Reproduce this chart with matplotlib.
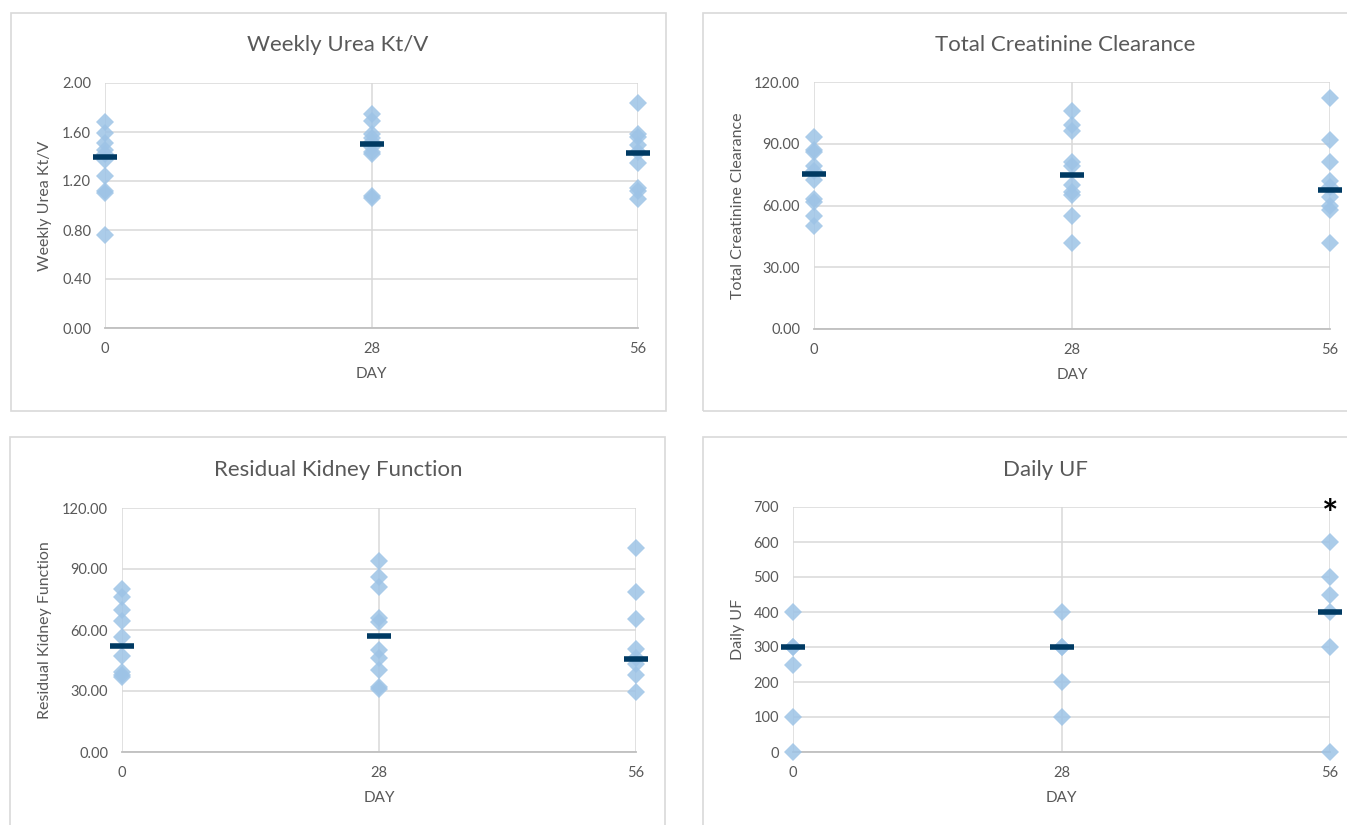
import matplotlib
matplotlib.use("Agg")
import matplotlib.pyplot as plt
from matplotlib.patches import Rectangle
from matplotlib.ticker import FormatStrFormatter

plt.rcParams['font.family'] = ['Lato', 'DejaVu Sans']

# ---------------- data ----------------
days = [0, 28, 56]
day_labels = ["0", "28", "56"]

ktv_d0 = [1.68, 1.59, 1.51, 1.45, 1.42, 1.37, 1.24, 1.12, 1.10, 0.76]
ktv_d28 = [1.75, 1.69, 1.58, 1.55, 1.52, 1.48, 1.44, 1.42, 1.08, 1.06]
ktv_d56 = [1.84, 1.58, 1.56, 1.49, 1.44, 1.35, 1.14, 1.12, 1.05]
ktv_median = [1.40, 1.50, 1.43]

ccr_d0 = [93.5, 87, 86, 79, 77, 72.5, 63, 61.5, 55, 50]
ccr_d28 = [106, 99, 96, 81, 79, 70, 66.5, 65, 55, 42]
ccr_d56 = [112, 92, 81, 72, 69, 64, 60, 58, 42]
ccr_median = [75.5, 75, 67.5]

rkf_d0 = [80, 76, 70, 64.5, 56.5, 47, 39.5, 38, 37]
rkf_d28 = [94, 86, 81, 66, 64, 50, 46, 40.5, 32, 31]
rkf_d56 = [100.5, 78.5, 65.5, 50.5, 46, 43.5, 38, 29.5]
rkf_median = [52, 57, 45.5]

uf_d0 = [400, 300, 300, 250, 100, 0]
uf_d28 = [400, 300, 300, 200, 100]
uf_d56 = [600, 500, 450, 400, 300, 0]
uf_median = [300, 300, 400]

titles = ["Weekly Urea Kt/V", "Total Creatinine Clearance",
          "Residual Kidney Function", "Daily UF"]
ylabels = titles
xlabel = "DAY"

# ---------------- layout ----------------
W, H = 1347, 825
fig = plt.figure(figsize=(W / 100, H / 100), dpi=100)
fig.patch.set_facecolor("white")

def fx(px):
    return px / W

def fy(py):
    return 1 - py / H

# panel frames (left, top, right, bottom) in px
frames = [(11, 13, 666, 411), (703, 13, 1360, 411),
          (10, 437, 665, 840), (703, 437, 1360, 840)]
for l, t, r, b in frames:
    fig.patches.append(Rectangle((fx(l), fy(b)), fx(r) - fx(l), fy(t) - fy(b),
                                 transform=fig.transFigure, fill=False,
                                 edgecolor="#D9D9D9", linewidth=1.2))

# axes (left, top, right, bottom) in px
axes_px = [(105, 83, 638, 328), (814, 82, 1330, 329),
           (122, 508, 636, 752), (793, 507, 1330, 752)]

series = [
    ([ktv_d0, ktv_d28, ktv_d56], ktv_median, (0, 2.0), [0, 0.4, 0.8, 1.2, 1.6, 2.0], "%.2f"),
    ([ccr_d0, ccr_d28, ccr_d56], ccr_median, (0, 120), [0, 30, 60, 90, 120], "%.2f"),
    ([rkf_d0, rkf_d28, rkf_d56], rkf_median, (0, 120), [0, 30, 60, 90, 120], "%.2f"),
    ([uf_d0, uf_d28, uf_d56], uf_median, (0, 700), [0, 100, 200, 300, 400, 500, 600, 700], "%d"),
]

ylabel_x = [45, 738, 45, 738]
title_pos = [(338, 45), (1065, 45), (338, 470), (1045, 470)]

text_col = "#595959"
grid_col = "#D9D9D9"
point_col = "#9DC3E6"
median_col = "#003A63"

for i, (l, t, r, b) in enumerate(axes_px):
    ax = fig.add_axes([fx(l), fy(b), fx(r) - fx(l), fy(t) - fy(b)])
    groups, med, ylim, yticks, fmt = series[i]
    for d, vals in zip(days, groups):
        ax.plot([d] * len(vals), vals, linestyle="none", marker="D",
                markersize=9, color=point_col, alpha=0.85,
                markeredgewidth=0, clip_on=False, zorder=3)
    ax.plot(days, med, linestyle="none", marker="_", markersize=17,
            markeredgewidth=4, color=median_col, clip_on=False, zorder=4)
    ax.set_xlim(0, 56)
    ax.set_ylim(*ylim)
    ax.set_xticks(days)
    ax.set_xticklabels(day_labels)
    ax.set_yticks(yticks)
    ax.yaxis.set_major_formatter(FormatStrFormatter(fmt))
    ax.grid(True, color=grid_col, linewidth=1.1)
    ax.set_axisbelow(True)
    for s in ["top", "right", "left"]:
        ax.spines[s].set_visible(False)
    ax.spines["bottom"].set_color("#BFBFBF")
    ax.spines["bottom"].set_linewidth(1.3)
    ax.tick_params(length=0, labelsize=10.5, labelcolor=text_col)
    ax.tick_params(axis="y", pad=10)
    ax.tick_params(axis="x", pad=10)
    ax.set_xlabel(xlabel, fontsize=11, color=text_col, labelpad=8)
    # titles and y labels in figure pixel coordinates
    tx, ty = title_pos[i]
    fig.text(fx(tx), fy(ty), titles[i], ha="center", va="center",
             fontsize=16, color=text_col)
    fig.text(fx(ylabel_x[i]), fy((t + b) / 2), ylabels[i], rotation=90,
             ha="center", va="center", fontsize=11.5, color=text_col)
    if i == 3:
        ax.annotate("*", xy=(56, 700), xytext=(0, -6), textcoords="offset points",
                    ha="center", va="center", fontsize=28, fontweight="bold",
                    color="black", annotation_clip=False, zorder=5)

fig.savefig("out.png", dpi=100, facecolor="white")
